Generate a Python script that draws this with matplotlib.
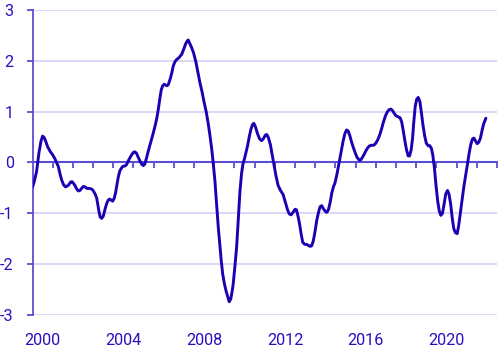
import matplotlib.pyplot as plt

# decimal years and values
years = [
    2000.00, 2000.10, 2000.20, 2000.32, 2000.42, 2000.50, 2000.58, 2000.65, 2000.75, 2000.87,
    2001.00, 2001.10, 2001.20, 2001.28, 2001.36, 2001.44, 2001.54, 2001.64, 2001.77, 2001.90,
    2001.97, 2002.10, 2002.20, 2002.27, 2002.35, 2002.43, 2002.52, 2002.60, 2002.70, 2002.80,
    2002.92, 2003.00, 2003.10, 2003.18, 2003.24, 2003.29, 2003.35, 2003.42, 2003.50, 2003.59,
    2003.68, 2003.75, 2003.82, 2003.89, 2003.97, 2004.05, 2004.12, 2004.19, 2004.25, 2004.33,
    2004.42, 2004.50, 2004.58, 2004.66, 2004.74, 2004.82, 2004.91, 2005.00, 2005.07, 2005.15,
    2005.24, 2005.33, 2005.42, 2005.49, 2005.56, 2005.64, 2005.73, 2005.82, 2005.90, 2005.98,
    2006.07, 2006.15, 2006.23, 2006.31, 2006.38, 2006.45, 2006.52, 2006.60, 2006.66, 2006.72,
    2006.80, 2006.89, 2006.97, 2007.05, 2007.15, 2007.25, 2007.39, 2007.48, 2007.58, 2007.66,
    2007.71, 2007.78, 2007.88, 2007.98, 2008.09, 2008.19, 2008.29, 2008.39, 2008.49, 2008.60,
    2008.70, 2008.78, 2008.87, 2008.95, 2009.03, 2009.12, 2009.20, 2009.28, 2009.35, 2009.42,
    2009.50, 2009.58, 2009.66, 2009.74, 2009.82, 2009.90, 2009.94, 2010.02, 2010.11, 2010.19,
    2010.27, 2010.35, 2010.42, 2010.50, 2010.57, 2010.65, 2010.73, 2010.82, 2010.90, 2010.96,
    2011.04, 2011.14, 2011.25, 2011.35, 2011.45, 2011.53, 2011.60, 2011.68, 2011.78, 2011.89,
    2011.96, 2012.05, 2012.16, 2012.28, 2012.41, 2012.52, 2012.62, 2012.71, 2012.80, 2012.92,
    2013.00, 2013.07, 2013.15, 2013.22, 2013.30, 2013.38, 2013.48, 2013.58, 2013.65, 2013.75,
    2013.82, 2013.90, 2013.98, 2014.07, 2014.15, 2014.24, 2014.32, 2014.42, 2014.52, 2014.58,
    2014.66, 2014.74, 2014.82, 2014.90, 2014.98, 2015.08, 2015.15, 2015.23, 2015.30, 2015.38,
    2015.47, 2015.55, 2015.63, 2015.72, 2015.80, 2015.89, 2015.97, 2016.07, 2016.17, 2016.25,
    2016.32, 2016.42, 2016.52, 2016.62, 2016.70, 2016.80, 2016.90, 2017.00, 2017.10, 2017.20,
    2017.29, 2017.38, 2017.47, 2017.56, 2017.66, 2017.75, 2017.83, 2017.92, 2018.00, 2018.10,
    2018.20, 2018.28, 2018.36, 2018.45, 2018.52, 2018.60, 2018.67, 2018.75, 2018.82, 2018.88,
    2018.95, 2019.02, 2019.10, 2019.18, 2019.25, 2019.33, 2019.42, 2019.50, 2019.59, 2019.67,
    2019.75, 2019.82, 2019.90, 2019.98, 2020.06, 2020.14, 2020.22, 2020.30, 2020.38, 2020.46,
    2020.55, 2020.62, 2020.70, 2020.78, 2020.86, 2020.94, 2021.03, 2021.10, 2021.20, 2021.28,
    2021.36, 2021.45, 2021.53, 2021.62, 2021.70, 2021.78, 2021.86, 2021.94, 2022.02, 2022.10,
    2022.18, 2022.26, 2022.34, 2022.45,
]
values = [
    -0.49, -0.35, -0.18, 0.19, 0.42, 0.52, 0.49, 0.42, 0.31, 0.22,
    0.15, 0.08, -0.01, -0.08, -0.22, -0.34, -0.44, -0.48, -0.45, -0.38,
    -0.38, -0.45, -0.53, -0.56, -0.55, -0.51, -0.47, -0.48, -0.51, -0.51,
    -0.52, -0.55, -0.62, -0.70, -0.84, -0.96, -1.07, -1.10, -1.06, -0.92,
    -0.80, -0.74, -0.72, -0.74, -0.76, -0.70, -0.58, -0.42, -0.28, -0.16,
    -0.10, -0.07, -0.07, -0.04, 0.03, 0.09, 0.15, 0.20, 0.21, 0.18,
    0.10, 0.02, -0.04, -0.06, -0.03, 0.08, 0.22, 0.35, 0.46, 0.58,
    0.72, 0.86, 1.05, 1.27, 1.44, 1.51, 1.54, 1.52, 1.51, 1.53,
    1.62, 1.75, 1.90, 1.98, 2.03, 2.06, 2.13, 2.22, 2.33, 2.39,
    2.41, 2.35, 2.26, 2.15, 1.98, 1.78, 1.57, 1.40, 1.20, 1.00,
    0.77, 0.55, 0.28, -0.02, -0.35, -0.85, -1.28, -1.65, -1.95, -2.20,
    -2.38, -2.52, -2.63, -2.74, -2.68, -2.50, -2.38, -2.05, -1.65, -1.10,
    -0.58, -0.22, -0.03, 0.08, 0.20, 0.33, 0.50, 0.66, 0.75, 0.77,
    0.70, 0.57, 0.46, 0.43, 0.48, 0.54, 0.55, 0.49, 0.35, 0.10,
    -0.05, -0.25, -0.45, -0.55, -0.63, -0.78, -0.92, -1.01, -1.03, -0.97,
    -0.92, -0.93, -1.06, -1.20, -1.40, -1.57, -1.61, -1.61, -1.63, -1.65,
    -1.64, -1.55, -1.38, -1.15, -1.00, -0.87, -0.85, -0.92, -0.97, -0.98,
    -0.92, -0.78, -0.60, -0.48, -0.40, -0.22, -0.07, 0.10, 0.25, 0.42,
    0.57, 0.64, 0.62, 0.52, 0.40, 0.29, 0.20, 0.10, 0.05, 0.05,
    0.09, 0.16, 0.24, 0.30, 0.33, 0.34, 0.34, 0.38, 0.45, 0.55,
    0.67, 0.80, 0.91, 0.99, 1.04, 1.05, 1.02, 0.96, 0.92, 0.90,
    0.88, 0.80, 0.62, 0.40, 0.25, 0.13, 0.13, 0.25, 0.48, 0.80,
    1.10, 1.24, 1.28, 1.20, 1.00, 0.75, 0.52, 0.38, 0.33, 0.33,
    0.28, 0.15, -0.10, -0.45, -0.75, -0.95, -1.04, -1.00, -0.82, -0.62,
    -0.55, -0.62, -0.80, -1.08, -1.30, -1.38, -1.40, -1.25, -0.95, -0.72,
    -0.47, -0.25, -0.05, 0.18, 0.35, 0.46, 0.48, 0.42, 0.37, 0.40,
    0.48, 0.63, 0.76, 0.87,
]

label_years = [2000, 2004, 2008, 2012, 2016, 2020]
y_ticks = [-3, -2, -1, 0, 1, 2, 3]

line_col = "#1e00b4"
text_col = "#2a10c0"
axis_col = "#5a4ed2"
grid_col = "#d4d0f2"

plt.rcParams["font.family"] = ["Roboto", "DejaVu Sans"]

fig = plt.figure(figsize=(5, 3.49), dpi=100)
ax = fig.add_axes([0.065, 0.0974, 0.929, 0.874])

for yv in y_ticks:
    if yv != 0:
        ax.axhline(yv, color=grid_col, lw=1.2, zorder=0)

ax.plot(years, values, color=line_col, lw=2.1, solid_joinstyle="round",
        solid_capstyle="round", zorder=3)

ax.set_xlim(2000, 2023)
ax.set_ylim(-3, 3)

for s in ["top", "right", "bottom"]:
    ax.spines[s].set_visible(False)
ax.spines["left"].set_color(axis_col)
ax.spines["left"].set_linewidth(1.3)

ax.set_yticks(y_ticks)
ax.set_yticklabels([str(v) for v in y_ticks])
ax.tick_params(axis="y", colors=axis_col, labelcolor=text_col, length=4.5,
               width=1.3, pad=9, labelsize=11.7)

# year labels centred in the year
ax.set_xticks([y + 0.5 for y in label_years])
ax.set_xticklabels([str(y) for y in label_years])
ax.tick_params(axis="x", length=0, pad=13, labelcolor=text_col, labelsize=11.7)

# zero line with yearly ticks pointing down
zero = ax.secondary_xaxis(0.5)
for sp in zero.spines.values():
    sp.set_color(axis_col)
    sp.set_linewidth(1.5)
zero.set_xticks(list(range(2001, 2024)))
zero.set_xticklabels([])
zero.tick_params(axis="x", direction="in", length=4.5, width=1.3,
                 colors=axis_col, labelbottom=False, labeltop=False)

fig.savefig("out.png", dpi=100)
